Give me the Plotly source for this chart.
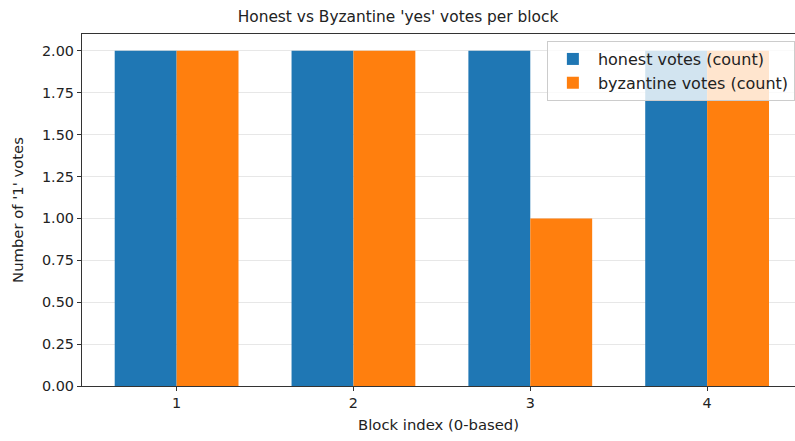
import plotly.graph_objects as go

blocks = [1, 2, 3, 4]
honest_votes = [2, 2, 2, 2]
byzantine_votes = [2, 2, 1, 2]
y_ticks = [0, 0.25, 0.5, 0.75, 1.0, 1.25, 1.5, 1.75, 2.0]

fig = go.Figure()
fig.add_trace(go.Bar(x=blocks, y=honest_votes, name="honest votes (count)",
                     marker=dict(color="#1f77b4", line=dict(width=0))))
fig.add_trace(go.Bar(x=blocks, y=byzantine_votes, name="byzantine votes (count)",
                     marker=dict(color="#ff7f0e", line=dict(width=0))))

font_family = "DejaVu Sans"
fig.update_layout(
    width=795, height=441,
    margin=dict(l=82, r=0, t=34, b=55),
    paper_bgcolor="white", plot_bgcolor="white",
    barmode="group", bargap=0.3, bargroupgap=0,
    font=dict(family=font_family, size=14, color="#222"),
    title=dict(text="Honest vs Byzantine 'yes' votes per block",
               x=398/795, xref="container", xanchor="center",
               y=1 - 17/441, yanchor="middle",
               font=dict(size=15.4, color="#222")),
    legend=dict(x=0.652, y=0.98, xanchor="left", yanchor="top",
                bgcolor="rgba(255,255,255,0.8)", bordercolor="#cccccc", borderwidth=1,
                itemwidth=40,
                font=dict(size=16, color="#222"), traceorder="normal"),
    xaxis=dict(range=[0.465, 4.497], tickmode="array", tickvals=blocks,
               ticktext=[str(b) for b in blocks],
               showgrid=False, zeroline=False,
               showline=True, linecolor="#333", linewidth=1.2, mirror=True,
               ticks="outside", ticklen=4, tickcolor="#333",
               tickfont=dict(size=14.4),
               title=dict(text="Block index (0-based)", standoff=9,
                          font=dict(size=14.8))),
    yaxis=dict(range=[0, 2.1], tickmode="array", tickvals=y_ticks,
               ticktext=[f"{v:.2f}" for v in y_ticks],
               showgrid=True, gridcolor="rgba(176,176,176,0.3)", gridwidth=1,
               zeroline=False,
               showline=True, linecolor="#333", linewidth=1.2,
               ticks="outside", ticklen=4, tickcolor="#333",
               tickfont=dict(size=14.4),
               title=dict(text="Number of '1' votes", standoff=14,
                          font=dict(size=14.8))),
)

fig.write_html("out.html")
